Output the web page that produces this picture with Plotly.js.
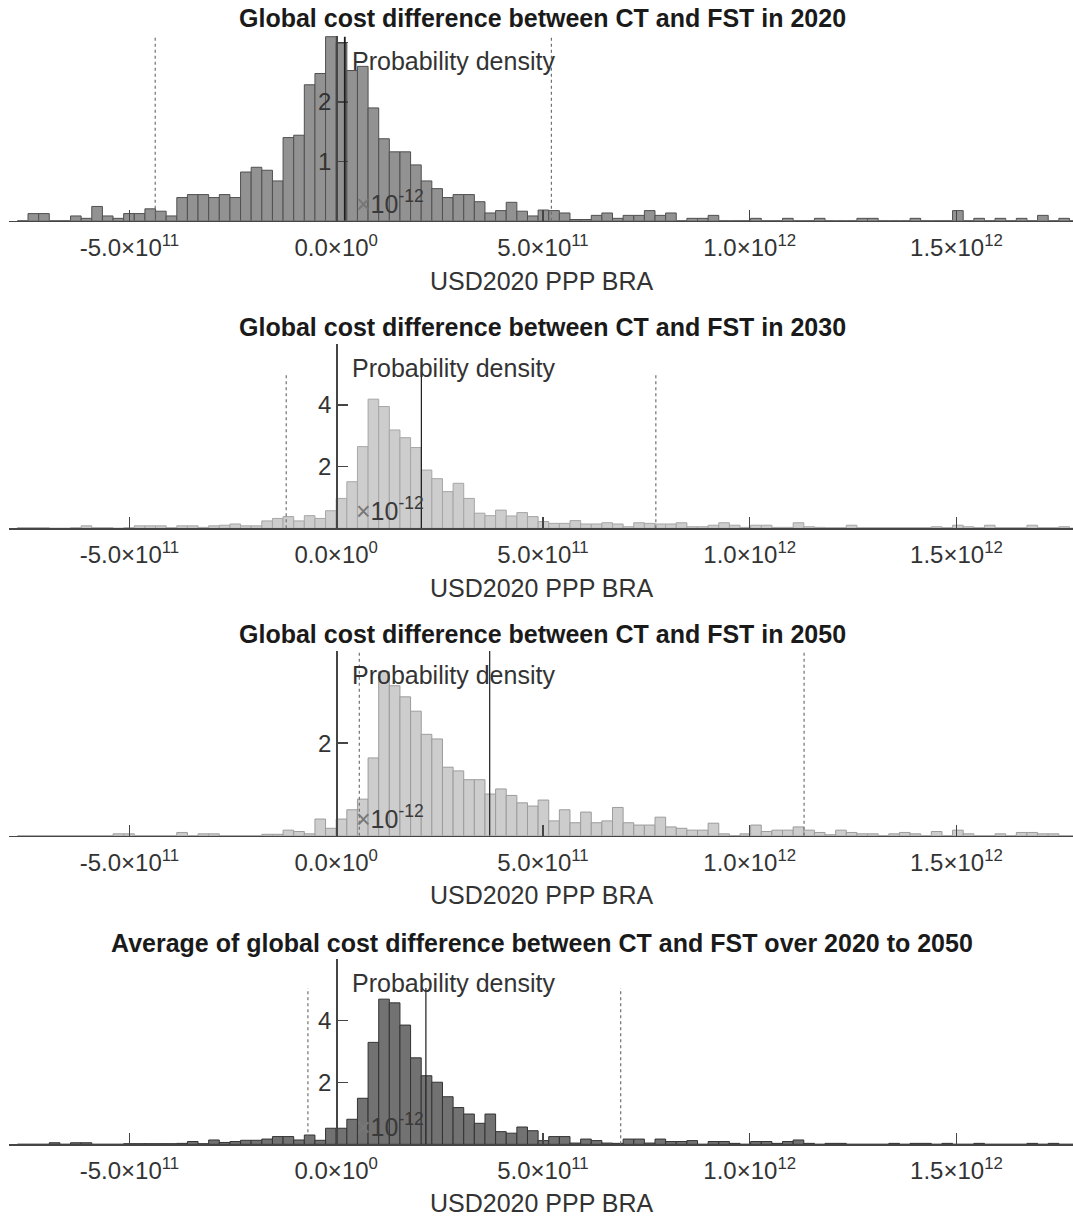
<!DOCTYPE html>
<html><head><meta charset="utf-8">
<script src="https://cdn.plot.ly/plotly-3.0.1.min.js"></script>
<style>html,body{margin:0;padding:0;background:#fff}#chart{width:1073px;height:1217px}</style>
</head><body><div id="chart"></div>
<script>
// Histogram bins: width and index of the first bin (bin k covers [k*w, (k+1)*w))
const binWidth = 2.57e10;
const firstBin = -30;

// Probability density (x 10^-12) per bin, k = -30 ... 69
const density2020 = [
  0,0.12,0.12,0,0,0.08,0.04,0.24,0.08,0.04,
  0.12,0.12,0.20,0.16,0.08,0.39,0.44,0.44,0.39,0.44,
  0.39,0.82,0.90,0.85,0.67,1.40,1.44,2.29,2.48,3.10,
  2.99,2.53,2.60,1.90,1.38,1.16,1.16,0.94,0.67,0.54,
  0.39,0.44,0.44,0.32,0.13,0.17,0.31,0.16,0.08,0.18,
  0.17,0.13,0.02,0.02,0.09,0.13,0.04,0.09,0.09,0.17,
  0.09,0.13,0,0.04,0.04,0.09,0,0,0,0.04,
  0,0,0.04,0,0,0.04,0,0,0,0.04,
  0.04,0,0,0,0.04,0,0,0,0.17,0,
  0.04,0,0.04,0,0.04,0,0.09,0,0.04,0
];
const density2030 = [
  0.02,0.02,0.02,0,0,0.02,0.08,0.02,0.02,0,
  0.02,0.08,0.08,0.08,0.02,0.08,0.08,0.03,0.08,0.10,
  0.14,0.08,0.08,0.24,0.32,0.38,0.24,0.41,0.32,0.57,
  0.97,1.51,2.65,4.19,3.95,3.19,2.94,2.62,1.89,1.61,
  1.19,1.46,0.97,0.49,0.41,0.59,0.40,0.51,0.38,0.22,
  0.16,0.16,0.25,0.14,0.14,0.18,0.14,0.05,0.18,0.16,
  0.14,0.14,0.18,0.05,0.05,0.10,0.18,0.10,0.03,0.10,
  0.10,0.03,0.03,0.18,0.05,0.03,0.02,0.02,0.10,0.02,
  0.02,0.02,0.02,0.02,0.02,0.02,0.05,0.02,0.10,0.05,
  0.02,0.10,0.02,0.02,0.02,0.10,0.02,0.02,0.05,0
];
const density2050 = [
  0,0,0,0,0,0,0,0,0,0.04,
  0.04,0,0,0,0,0.07,0,0.04,0.04,0,
  0,0,0,0.03,0.03,0.12,0.09,0.04,0.36,0.16,
  0.36,0.56,0.79,1.68,3.54,3.24,3.00,2.69,2.19,2.09,
  1.48,1.40,1.21,1.21,0.90,1.01,0.87,0.71,0.64,0.77,
  0.32,0.56,0.28,0.51,0.28,0.32,0.61,0.28,0.23,0.23,
  0.40,0.19,0.16,0.12,0.12,0.27,0.04,0,0.04,0.23,
  0.09,0.12,0.12,0.19,0.12,0.07,0.02,0.12,0.07,0.04,
  0.04,0,0.04,0.07,0.04,0,0.09,0,0.12,0.04,
  0,0,0.04,0,0.07,0.07,0.04,0.04,0,0
];
const densityAverage = [
  0,0,0,0.05,0,0.05,0.05,0,0,0,
  0.02,0.02,0.02,0.02,0.02,0.03,0.09,0.02,0.14,0.06,
  0.09,0.13,0.13,0.17,0.25,0.25,0.14,0.30,0.13,0.52,
  0.52,0.81,1.49,3.30,4.70,4.58,3.86,2.80,2.22,2.01,
  1.54,1.19,0.98,0.68,0.98,0.41,0.36,0.56,0.44,0.12,
  0.25,0.25,0.04,0.17,0.12,0.04,0.03,0.17,0.17,0.04,
  0.17,0.09,0.09,0.12,0,0.09,0.09,0.03,0,0.09,
  0.09,0.03,0.09,0.14,0.03,0,0.03,0.03,0,0,
  0,0,0.03,0,0.03,0.03,0,0.03,0,0,
  0.03,0,0,0,0,0.03,0,0.03,0,0
];

const panelTitles = [
  'Global cost difference between CT and FST in 2020',
  'Global cost difference between CT and FST in 2030',
  'Global cost difference between CT and FST in 2050',
  'Average of global cost difference between CT and FST over 2020 to 2050'
];
const meanValues  = [2.08e10, 2.06e11, 3.712e11, 2.169e11];
const lowerBounds = [-4.377e11, -1.209e11, 5.59e10, -6.84e10];
const upperBounds = [5.204e11, 7.73e11, 1.1315e12, 6.88e11];

const xTickVals = [-5e11, 0, 5e11, 1e12, 1.5e12];
const xTickText = ['-5.0×10<sup>11</sup>', '0.0×10<sup>0</sup>', '5.0×10<sup>11</sup>', '1.0×10<sup>12</sup>', '1.5×10<sup>12</sup>'];
const yTickVals = [[1, 2, 3], [2, 4, 6], [2, 4], [2, 4, 6]];
const yTickText = [['1', '2', ''], ['2', '4', ''], ['2', ''], ['2', '4', '']];
const xTitle = 'USD2020 PPP BRA';
const yTitle = 'Probability density';
const yScaleLabel = '<span style="color:#777">×</span>10<sup>-12</sup>';

// ---- styling / layout (pixels in the 1073 x 1217 page) ----
const W = 1073, H = 1217;
const FONT = 'Liberation Sans, Arial, sans-serif';
const panels = [
  {data: density2020,   fill: '#929292', edge: '#505050', base: 220.7, top: 35.5, ymax: 3.12, meanTop: 3.10, boundTop: 3.08, title: 18, xt: 281, yl: 61,  sc: 202},
  {data: density2030,   fill: '#cdcdcd', edge: '#a6a6a6', base: 528.3, top: 344,  ymax: 5.98, meanTop: 5.40, boundTop: 5.04, title: 327, xt: 588, yl: 368, sc: 509},
  {data: density2050,   fill: '#cdcdcd', edge: '#9c9c9c', base: 835.7, top: 651,  ymax: 3.99, meanTop: 3.99, boundTop: 3.97, title: 634, xt: 895, yl: 675, sc: 817},
  {data: densityAverage,fill: '#727272', edge: '#333333', base: 1144.3,top: 959,  ymax: 6.00, meanTop: 5.06, boundTop: 5.06, title: 943, xt: 1203,yl: 983, sc: 1125}
];
const xLeftPx = 8.6, zeroPx = 336.2, pxPer1e11 = 41.35;
const xRange = [(xLeftPx - zeroPx) / pxPer1e11 * 1e11, (W - zeroPx) / pxPer1e11 * 1e11];

const traces = [];
const layout = {
  width: W, height: H,
  margin: {l: 0, r: 0, t: 0, b: 0},
  paper_bgcolor: '#fff', plot_bgcolor: 'rgba(0,0,0,0)',
  showlegend: false, hovermode: false, barmode: 'overlay', bargap: 0,
  font: {family: FONT, size: 24, color: '#333'},
  annotations: [], shapes: []
};
const py = px => 1 - px / H;

panels.forEach((p, i) => {
  const n = i + 1;
  const xs = p.data.map((_, j) => (firstBin + j + 0.5) * binWidth);
  traces.push({
    type: 'bar', x: xs, y: p.data, width: binWidth,
    xaxis: 'x' + n, yaxis: 'y' + n,
    marker: {color: p.fill, line: {color: p.edge, width: 1}}
  });
  layout['xaxis' + n] = {
    domain: [xLeftPx / W, 1], range: xRange, anchor: 'y' + n,
    showline: true, linecolor: '#454545', linewidth: 1.3,
    ticks: 'inside', ticklen: 11, tickwidth: 1.3, tickcolor: '#454545',
    tickvals: xTickVals, ticktext: xTickText, ticklabelstandoff: 5,
    tickfont: {family: FONT, size: 24, color: '#333'},
    showgrid: false, zeroline: false, fixedrange: true
  };
  layout['yaxis' + n] = {
    domain: [py(p.base), py(p.top)], range: [0, p.ymax],
    anchor: 'free', position: zeroPx / W,
    showline: true, linecolor: '#454545', linewidth: 1.3,
    ticks: 'inside', ticklen: 10, tickwidth: 1.3, tickcolor: '#454545',
    tickvals: yTickVals[i], ticktext: yTickText[i],
    tickfont: {family: FONT, size: 24, color: '#333'},
    showgrid: false, zeroline: false, fixedrange: true
  };
  // mean (solid) and interval bounds (dotted)
  layout.shapes.push({type: 'line', xref: 'x' + n, yref: 'y' + n, x0: meanValues[i], x1: meanValues[i], y0: 0, y1: p.meanTop,
    line: {color: '#1e1e1e', width: i === 0 ? 1.8 : 1.2}});
  [lowerBounds[i], upperBounds[i]].forEach(v => layout.shapes.push({type: 'line', xref: 'x' + n, yref: 'y' + n,
    x0: v, x1: v, y0: 0, y1: p.boundTop, line: {color: '#707070', width: 1.2, dash: 'dot'}}));
  // texts
  layout.annotations.push({text: '<b>' + panelTitles[i] + '</b>', xref: 'paper', yref: 'paper',
    x: 542 / W, y: py(p.title), xanchor: 'center', yanchor: 'middle', showarrow: false,
    font: {family: FONT, size: 25, color: '#1a1a1a'}});
  layout.annotations.push({text: xTitle, xref: 'paper', yref: 'paper',
    x: 542 / W, y: py(p.xt), xanchor: 'center', yanchor: 'middle', showarrow: false,
    font: {family: FONT, size: 25, color: '#333'}});
  layout.annotations.push({text: yTitle, xref: 'paper', yref: 'paper',
    x: 350 / W, y: py(p.yl), xanchor: 'left', yanchor: 'middle', showarrow: false,
    font: {family: FONT, size: 25, color: '#333'}});
  layout.annotations.push({text: yScaleLabel, xref: 'paper', yref: 'paper',
    x: 354 / W, y: py(p.sc), xanchor: 'left', yanchor: 'middle', showarrow: false,
    font: {family: FONT, size: 25, color: '#3a3a3a'}});
});

Plotly.newPlot('chart', traces, layout, {staticPlot: true, displayModeBar: false});
</script></body></html>
